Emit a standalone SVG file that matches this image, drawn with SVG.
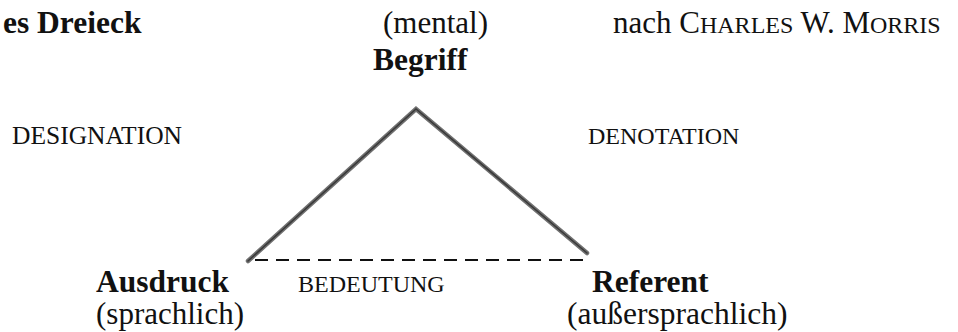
<svg xmlns="http://www.w3.org/2000/svg" width="958" height="332" viewBox="0 0 958 332">
<style>
  text { font-family: "Liberation Serif", "Times New Roman", serif; fill: #111; }
  .b { font-weight: bold; font-size: 31.5px; }
  .r { font-size: 31px; }
  .sc { font-size: 24px; }
  .edge { fill: none; stroke: #707070; stroke-width: 4.5; stroke-linecap: round; stroke-linejoin: miter; }
  .edgecore { fill: none; stroke: #3a3a3a; stroke-width: 1.6; stroke-linecap: round; }
  .dash { fill: none; stroke: #111; stroke-width: 2; stroke-dasharray: 13 8; }
</style>
<rect width="958" height="332" fill="#ffffff"/>
<g id="title">
  <text class="b" x="3" y="33">es Dreieck</text>
  <text class="r" x="613" y="33">nach C<tspan class="sc">HARLES</tspan> W. M<tspan class="sc">ORRIS</tspan></text>
</g>
<g id="connectors">
  <polyline class="edge" points="248,261 416,109 587,253"/>
  <polyline class="edgecore" points="248,261 416,109 587,253"/>
  <line class="dash" x1="255" y1="260" x2="588" y2="260"/>
</g>
<g id="edge-labels">
  <text class="sc" x="12" y="144" style="font-size:25.5px">DESIGNATION</text>
  <text class="sc" x="588" y="144">DENOTATION</text>
  <text class="sc" x="298" y="292">BEDEUTUNG</text>
</g>
<g id="node-begriff">
  <text class="r" x="383" y="33">(mental)</text>
  <text class="b" x="373" y="70">Begriff</text>
</g>
<g id="node-ausdruck">
  <text class="b" x="96" y="292">Ausdruck</text>
  <text class="r" x="96" y="324">(sprachlich)</text>
</g>
<g id="node-referent">
  <text class="b" x="592" y="292">Referent</text>
  <text class="r" x="567" y="324" style="font-size:31.5px">(außersprachlich)</text>
</g>
</svg>
